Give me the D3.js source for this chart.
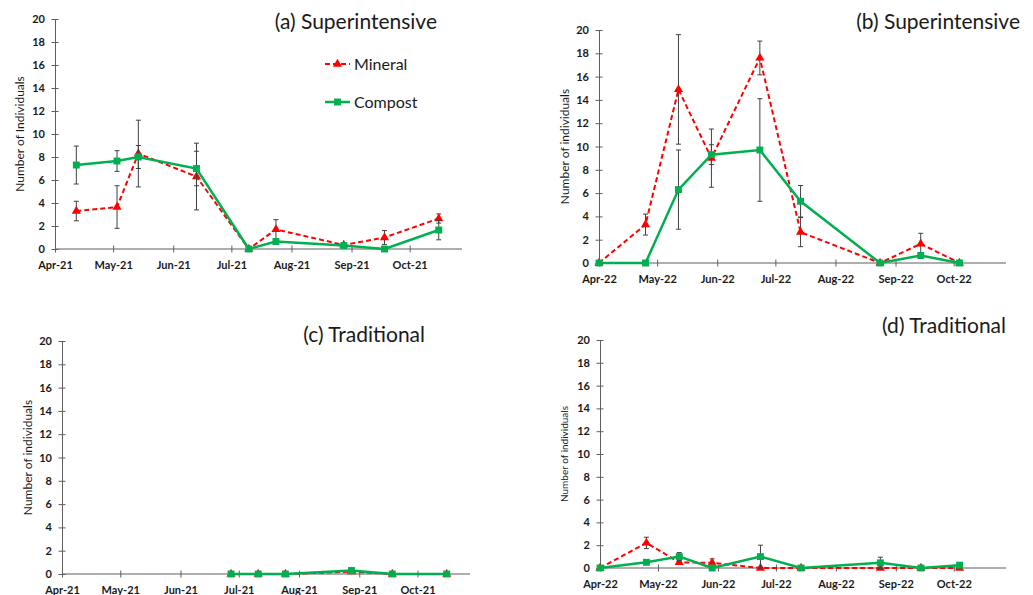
<!DOCTYPE html>
<html>
<head>
<meta charset="utf-8">
<script src="https://cdn.jsdelivr.net/npm/d3@7"></script>
<style>
  body { margin: 0; background: #fff; }
  svg { font-family: Lato, "Open Sans", sans-serif; }
</style>
</head>
<body>
<svg width="1033" height="595"></svg>
<script>
// Sampling dates
const dates2021 = ['2021-04-12', '2021-05-03', '2021-05-14', '2021-06-13', '2021-07-10', '2021-07-24', '2021-08-28', '2021-09-18', '2021-10-16'];
const dates2022 = ['2022-04-01', '2022-04-25', '2022-05-12', '2022-05-29', '2022-06-23', '2022-07-14', '2022-08-24', '2022-09-14', '2022-10-04'];
const datesTrad2021 = ['2021-06-27', '2021-07-11', '2021-07-25', '2021-08-28', '2021-09-18', '2021-10-16'];

// (a) Superintensive 2021
const mineralA = [3.3, 3.65, 8.3, 6.3, 0, 1.7, 0.35, 1.0, 2.65];
const mineralErrA = [0.85, 1.85, 2.9, 2.9, 0, 0.85, 0.1, 0.6, 0.4];
const compostA = [7.3, 7.65, 8.0, 7.0, 0, 0.65, 0.3, 0, 1.65];
const compostErrA = [1.65, 0.9, 1.0, 1.5, 0, 0.25, 0.1, 0, 0.85];

// (b) Superintensive 2022
const mineralB = [0, 3.3, 14.9, 9.0, 17.6, 2.65, 0, 1.65, 0];
const mineralErrB = [0, 0.9, 4.7, 2.5, 1.45, 1.25, 0, 0.9, 0];
const compostB = [0, 0, 6.3, 9.3, 9.7, 5.3, 0, 0.65, 0];
const compostErrB = [0, 0, 3.4, 0.85, 4.4, 1.35, 0, 0.25, 0];

// (c) Traditional 2021
const mineralC = [0, 0, 0, 0.2, 0, 0];
const mineralErrC = [0, 0, 0, 0, 0, 0];
const compostC = [0, 0, 0, 0.3, 0, 0];
const compostErrC = [0, 0, 0, 0.1, 0, 0];

// (d) Traditional 2022
const mineralD = [0, 2.2, 0.5, 0.45, 0, 0, 0, 0, 0];
const mineralErrD = [0, 0.5, 0, 0.35, 0, 0, 0, 0, 0];
const compostD = [0, 0.5, 1.0, 0, 1.0, 0, 0.45, 0, 0.25];
const compostErrD = [0, 0, 0.35, 0, 1.0, 0, 0.5, 0, 0];

const yTicks = [0, 2, 4, 6, 8, 10, 12, 14, 16, 18, 20];
const parse = d3.timeParse('%Y-%m-%d');
const red = '#ff0000';
const green = '#00b050';
const axisColor = '#5f5f5f';

const svg = d3.select('svg');

function panel(p) {
  const g = svg.append('g');
  const x = d3.scaleTime()
    .domain([parse(p.year + '-04-01'), parse(p.year + '-10-28')])
    .range([p.left, p.right]);
  const y = d3.scaleLinear().domain([0, 20]).range([p.bottom, p.top]);

  // y axis
  const ya = g.append('g')
    .attr('transform', `translate(${p.left},0)`)
    .call(d3.axisLeft(y).tickValues(yTicks).tickSize(0).tickPadding(10));
  ya.selectAll('.tick line').remove();
  ya.selectAll('.tick').append('line')
    .attr('x1', -3.5).attr('x2', 3.5).attr('stroke', axisColor);
  ya.select('.domain').attr('stroke', axisColor);

  // x axis
  const monthTicks = d3.timeMonth.range(parse(p.year + '-04-01'), parse(p.year + '-10-02'));
  const xa = g.append('g')
    .attr('transform', `translate(0,${p.bottom})`)
    .call(d3.axisBottom(x).tickValues(monthTicks).tickFormat(d3.timeFormat('%b-%y')).tickSize(0).tickPadding(12));
  xa.selectAll('.tick line').remove();
  xa.selectAll('.tick').append('line')
    .attr('y1', -3.5).attr('y2', 3.5).attr('stroke', axisColor);
  xa.select('.domain').attr('stroke', axisColor).attr('d', `M${p.left},0H${p.right}`);

  g.selectAll('.tick text')
    .attr('font-family', 'Lato, sans-serif')
    .attr('font-size', 11)
    .attr('font-weight', 'bold')
    .attr('fill', '#1a1a1a');

  // y label
  g.append('text')
    .attr('transform', `translate(${p.labelX},${(p.top + p.bottom) / 2}) rotate(-90)`)
    .attr('text-anchor', 'middle')
    .attr('font-size', p.labelSize)
    .attr('fill', '#1a1a1a')
    .text(p.yLabel);

  // title
  g.append('text')
    .attr('x', p.titleX).attr('y', p.titleY)
    .attr('text-anchor', 'end')
    .attr('font-size', 21)
    .attr('fill', '#1a1a1a')
    .text(p.title);

  const series = [
    { vals: p.mineral, err: p.mineralErr, color: red, dash: '5,3', width: 2, shape: d3.symbolTriangle, size: 36 },
    { vals: p.compost, err: p.compostErr, color: green, dash: null, width: 2.5, shape: d3.symbolSquare, size: 48 }
  ];

  series.forEach(s => {
    const pts = p.dates.map((d, i) => ({ date: parse(d), v: s.vals[i], e: s.err[i] }));

    // error bars
    const eb = g.append('g').attr('stroke', '#404040').attr('stroke-width', 1);
    pts.filter(d => d.e > 0).forEach(d => {
      const cx = x(d.date);
      eb.append('line').attr('x1', cx).attr('x2', cx).attr('y1', y(d.v - d.e)).attr('y2', y(d.v + d.e));
      eb.append('line').attr('x1', cx - 2.5).attr('x2', cx + 2.5).attr('y1', y(d.v - d.e)).attr('y2', y(d.v - d.e));
      eb.append('line').attr('x1', cx - 2.5).attr('x2', cx + 2.5).attr('y1', y(d.v + d.e)).attr('y2', y(d.v + d.e));
    });

    g.append('path')
      .datum(pts)
      .attr('fill', 'none')
      .attr('stroke', s.color)
      .attr('stroke-width', s.width)
      .attr('stroke-dasharray', s.dash)
      .attr('d', d3.line().x(d => x(d.date)).y(d => y(d.v)));

    g.selectAll(null)
      .data(pts)
      .join('path')
      .attr('transform', d => `translate(${x(d.date)},${y(d.v)})`)
      .attr('d', d3.symbol().type(s.shape).size(s.size))
      .attr('fill', s.color);
  });
}

panel({ year: 2021, left: 55, right: 462, top: 19, bottom: 249, dates: dates2021,
  mineral: mineralA, mineralErr: mineralErrA, compost: compostA, compostErr: compostErrA,
  title: '(a) Superintensive', titleX: 437, titleY: 29, yLabel: 'Number of Individuals', labelX: 24, labelSize: 12 });
panel({ year: 2022, left: 599, right: 1006, top: 30, bottom: 263, dates: dates2022,
  mineral: mineralB, mineralErr: mineralErrB, compost: compostB, compostErr: compostErrB,
  title: '(b) Superintensive', titleX: 1020, titleY: 29, yLabel: 'Number of individuals', labelX: 569, labelSize: 12 });
panel({ year: 2021, left: 62, right: 470, top: 341, bottom: 574, dates: datesTrad2021,
  mineral: mineralC, mineralErr: mineralErrC, compost: compostC, compostErr: compostErrC,
  title: '(c) Traditional', titleX: 425, titleY: 342, yLabel: 'Number of individuals', labelX: 32, labelSize: 12 });
panel({ year: 2022, left: 600, right: 1006, top: 340, bottom: 568, dates: dates2022,
  mineral: mineralD, mineralErr: mineralErrD, compost: compostD, compostErr: compostErrD,
  title: '(d) Traditional', titleX: 1006, titleY: 333, yLabel: 'Number of individuals', labelX: 568, labelSize: 10 });

// legend in panel (a)
const legend = svg.append('g');
const legendItems = [
  { name: 'Mineral', color: red, dash: '5,3', width: 2, shape: d3.symbolTriangle, size: 36, y: 64 },
  { name: 'Compost', color: green, dash: null, width: 2.5, shape: d3.symbolSquare, size: 48, y: 102 }
];
legendItems.forEach(l => {
  legend.append('line')
    .attr('x1', 325).attr('x2', 350).attr('y1', l.y).attr('y2', l.y)
    .attr('stroke', l.color).attr('stroke-width', l.width).attr('stroke-dasharray', l.dash);
  legend.append('path')
    .attr('transform', `translate(337.5,${l.y})`)
    .attr('d', d3.symbol().type(l.shape).size(l.size))
    .attr('fill', l.color);
  legend.append('text')
    .attr('x', 354).attr('y', l.y).attr('dy', '0.35em')
    .attr('font-size', 16).attr('fill', '#1a1a1a')
    .text(l.name);
});
</script>
</body>
</html>
